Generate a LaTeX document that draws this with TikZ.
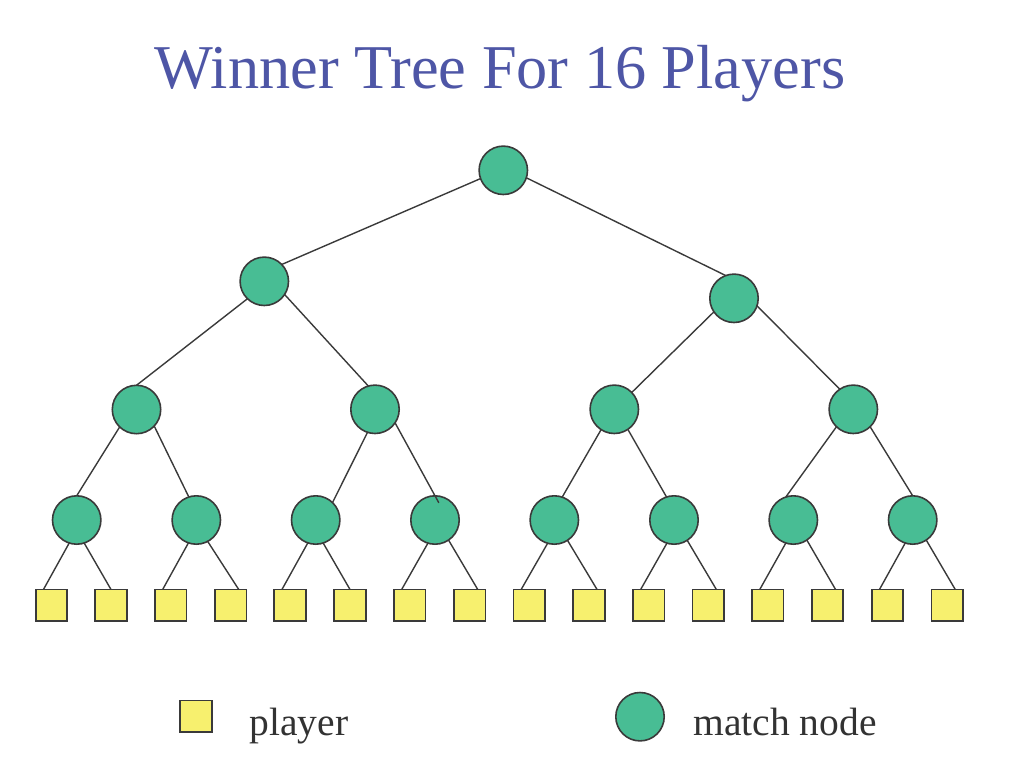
\documentclass[tikz,border=0pt]{standalone}
\usepackage{fontspec}
\setmainfont{Liberation Serif}
\definecolor{titleblue}{RGB}{78,86,166}
\definecolor{matchgreen}{RGB}{72,189,148}
\definecolor{playeryellow}{RGB}{247,240,110}
\definecolor{edgegray}{RGB}{58,58,58}
\definecolor{textgray}{RGB}{50,50,50}
\begin{document}
\begin{tikzpicture}[x=1pt,y=-1pt,
  match/.style={circle,draw=edgegray,line width=1.6pt,fill=matchgreen,minimum size=48.4pt,inner sep=0pt,outer sep=0pt},
  player/.style={rectangle,draw=edgegray,line width=1.7pt,fill=playeryellow,minimum size=31.6pt,inner sep=0pt,outer sep=0pt},
  edge/.style={draw=edgegray,line width=1.4pt},
  legendtext/.style={text=textgray,font=\fontsize{39.5}{44}\selectfont,anchor=base west,inner sep=0pt}]
\useasboundingbox (0,0) rectangle (1024,768);
% title
\node[anchor=base,inner sep=0pt,text=titleblue,font=\fontsize{62.3}{70}\selectfont] (title) at (500,88) {Winner Tree For 16 Players};
% match nodes
\node[match] (r) at (503.3,170.3) {};
\node[match] (a) at (264.3,281.3) {};
\node[match] (b) at (734,298.3) {};
\node[match] (aa) at (136.5,409.5) {};
\node[match] (ab) at (375,409.3) {};
\node[match] (ba) at (614.3,409.3) {};
\node[match] (bb) at (853.3,409.3) {};
\node[match] (c1) at (76.7,520) {};
\node[match] (c2) at (196.3,520) {};
\node[match] (c3) at (315.7,520) {};
\node[match] (c4) at (435,520) {};
\node[match] (c5) at (554.3,520) {};
\node[match] (c6) at (674,520) {};
\node[match] (c7) at (793.3,520) {};
\node[match] (c8) at (912.7,520) {};
% players
\foreach \i/\x in {1/51.5,2/111,3/170.7,4/230.7,5/290,6/350,7/409.7,8/469.7,9/529.2,10/589,11/648.7,12/708.3,13/767.8,14/827.5,15/887.5,16/947.2}
  \node[player] (s\i) at (\x,605.3) {};
% edges
\path[edge] (r.200) -- (a.44);
\path[edge] (r.-18) -- (b.110);
\path[edge] (a.226) -- (aa.90);
\path[edge] (a.-33.5) -- (ab.106);
\path[edge] (b.214) -- (ba.44);
\path[edge] (b.-18.6) -- (bb.124);
\path[edge] (aa.226) -- (c1.90);
\path[edge] (aa.-43) -- (c2.108);
\path[edge] (ab.252) -- (c3.46);
\path[edge,shorten >=-8pt] (ab.-34) -- (c4.90);
\path[edge] (ba.237) -- (c5.71);
\path[edge] (ba.-56) -- (c6.108);
\path[edge] (bb.226) -- (c7.108);
\path[edge] (bb.-46) -- (c8.90);
\path[edge] (c1.252) -- (s1.117);
\path[edge] (c1.-72) -- (s2.90);
\path[edge] (c2.251) -- (s3.117);
\path[edge] (c2.-62) -- (s4.63);
\path[edge] (c3.251) -- (s5.117);
\path[edge] (c3.-72) -- (s6.90);
\path[edge] (c4.253) -- (s7.117);
\path[edge] (c4.-56) -- (s8.63);
\path[edge] (c5.254) -- (s9.117);
\path[edge] (c5.-57) -- (s10.63);
\path[edge] (c6.253) -- (s11.117);
\path[edge] (c6.-57) -- (s12.63);
\path[edge] (c7.252) -- (s13.117);
\path[edge] (c7.-56) -- (s14.63);
\path[edge] (c8.252) -- (s15.117);
\path[edge] (c8.-56) -- (s16.63);
% legend
\node[player] (lp) at (196,716.3) {};
\node[legendtext] (lpt) at (249.3,735) {player};
\node[match] (lm) at (640,716.7) {};
\node[legendtext] (lmt) at (693.3,735) {match node};
\end{tikzpicture}
\end{document}
